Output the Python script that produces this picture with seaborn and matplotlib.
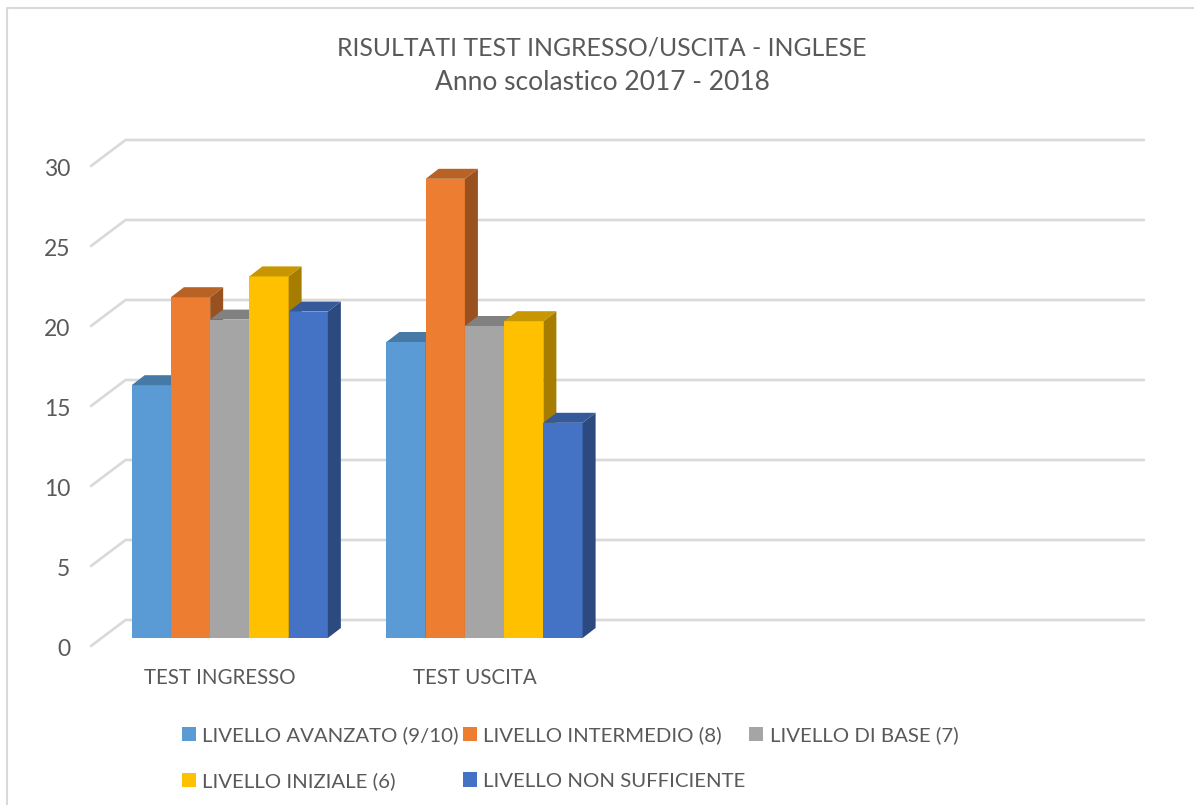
import matplotlib
matplotlib.use('Agg')
import pandas as pd
import matplotlib.pyplot as plt
import matplotlib.colors as mcolors
from matplotlib.lines import Line2D
from matplotlib.patches import Polygon, Rectangle
from matplotlib.transforms import IdentityTransform, ScaledTranslation
import seaborn as sns

# dati
test_names = ['TEST INGRESSO', 'TEST USCITA']
empty_slots = [' ', '  ']
livelli = ['LIVELLO AVANZATO (9/10)', 'LIVELLO INTERMEDIO (8)', 'LIVELLO DI BASE (7)',
           'LIVELLO INIZIALE (6)', 'LIVELLO NON SUFFICIENTE']
ingresso = [15.8, 21.3, 19.9, 22.6, 20.4]
uscita = [18.5, 28.7, 19.5, 19.8, 13.45]
colori = ['#5B9BD5', '#ED7D31', '#A5A5A5', '#FFC000', '#4472C4']
y_ticks = [0, 5, 10, 15, 20, 25, 30]

W, H = 1194, 805
TEXT = '#595959'
GRID = '#D9D9D9'
# profondita finta 3D, in pixel
BAR_DX, BAR_DY = 13, 10
WALL_X0, WALL_X1, WALL_DY = 125.5, 1144, 18
TICK_X0, TICK_DY = 91, -8

sns.set_theme(style='white')
plt.rcParams['font.family'] = ['Lato', 'DejaVu Sans']

df = pd.DataFrame({
    'test': [test_names[0]] * 5 + [test_names[1]] * 5,
    'livello': livelli * 2,
    'valore': ingresso + uscita,
})

fig = plt.figure(figsize=(W / 100, H / 100), dpi=100)
# asse: y=0 a 638 px, y=30 a 158 px
ax = fig.add_axes([102.4 / W, (H - 638) / H, 1019 / W, 480 / H])
sns.barplot(data=df, x='test', y='valore', hue='livello', hue_order=livelli,
            order=test_names + empty_slots, palette=colori, width=0.77, gap=0,
            saturation=1, linewidth=0, legend=False, ax=ax)
ax.set_ylim(0, 30)
ax.set_xlim(-0.5, 3.5)
ax.set_xlabel('')
ax.set_ylabel('')
sns.despine(ax=ax, left=True, bottom=True)
ax.patch.set_alpha(0)


def shade(color, factor):
    return tuple(c * factor for c in mcolors.to_rgb(color))


# facce laterali e superiori delle colonne
for i, cont in enumerate(ax.containers):
    for bar in cont:
        if pd.isna(bar.get_height()) or bar.get_height() == 0:
            continue
        bar.set_zorder(3 + i)
        (x0, y0), (x1, y1) = ax.transData.transform(
            [(bar.get_x(), 0), (bar.get_x() + bar.get_width(), bar.get_height())])
        side = [(x1, y0), (x1 + BAR_DX, y0 + BAR_DY), (x1 + BAR_DX, y1 + BAR_DY), (x1, y1)]
        top = [(x0, y1), (x0 + BAR_DX, y1 + BAR_DY), (x1 + BAR_DX, y1 + BAR_DY), (x1, y1)]
        for pts, f in [(side, 0.65), (top, 0.78)]:
            ax.add_patch(Polygon(pts, closed=True, facecolor=shade(colori[i], f), edgecolor='none',
                                 transform=IdentityTransform(), zorder=3 + i, clip_on=False))

# griglia: parete di fondo e raccordo verso i tick
for v in y_ticks:
    _, y_disp = ax.transData.transform((0, v))
    ax.add_line(Line2D([TICK_X0, WALL_X0, WALL_X1],
                       [y_disp + TICK_DY, y_disp + WALL_DY, y_disp + WALL_DY],
                       color=GRID, lw=1.9, transform=IdentityTransform(), zorder=1,
                       clip_on=False, solid_joinstyle='miter'))

ax.set_yticks(y_ticks)
ax.set_xticks(range(4))
ax.set_xticklabels(test_names + ['', ''])
ax.tick_params(axis='both', length=0, labelcolor=TEXT)
ax.tick_params(axis='y', pad=23, labelsize=16.5)
ax.tick_params(axis='x', pad=21.5, labelsize=14.8)
for lab in ax.get_yticklabels():
    lab.set_transform(lab.get_transform() + ScaledTranslation(0, -9.5 / 100, fig.dpi_scale_trans))
for lab in ax.get_xticklabels():
    lab.set_transform(lab.get_transform() + ScaledTranslation(-10 / 100, 0, fig.dpi_scale_trans))

# titolo
fig.text(602 / W, 1 - 48 / H, 'RISULTATI TEST INGRESSO/USCITA - INGLESE', ha='center', va='center',
         fontsize=17.9, color=TEXT)
fig.text(602 / W, 1 - 83 / H, 'Anno scolastico 2017 - 2018', ha='center', va='center',
         fontsize=19, color=TEXT)

# legenda (ordine per colonne: 3 in alto, 2 in basso)
handles = [Rectangle((0, 0), 1, 1, facecolor=c, edgecolor='none') for c in colori]
order = [0, 3, 1, 4, 2]
fig.legend([handles[k] for k in order], [livelli[k] for k in order], ncol=3, frameon=False,
           loc='upper left', bbox_to_anchor=(182 / W, 1 - 726 / H), fontsize=14.7,
           labelcolor=TEXT, handlelength=0.69, handleheight=0.69, handletextpad=0.3,
           columnspacing=0.2, labelspacing=1.4, borderpad=0, borderaxespad=0)

# cornice del grafico
fig.add_artist(Line2D([7 / W, 7 / W, 1], [0, 1 - 8 / H, 1 - 8 / H], color=GRID, lw=1.5))

fig.savefig('out.png', dpi=100, facecolor='white')
